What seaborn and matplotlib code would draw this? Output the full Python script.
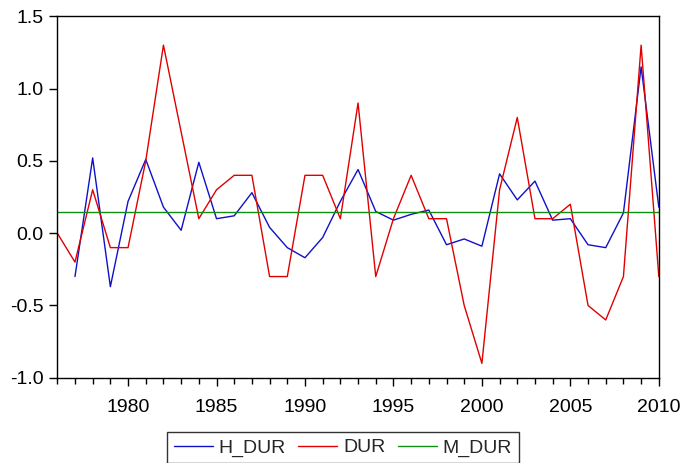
import numpy as np
import pandas as pd
import seaborn as sns
import matplotlib.pyplot as plt
from matplotlib.ticker import MultipleLocator, FormatStrFormatter

#--------------------------------------------------------------------------------------------------------------------------
# Data
years = list(range(1976, 2011))

h_dur = [np.nan, -0.30, 0.52, -0.37, 0.22, 0.51, 0.18, 0.02, 0.49, 0.10,
         0.12, 0.28, 0.04, -0.10, -0.17, -0.03, 0.22, 0.44, 0.15, 0.09,
         0.13, 0.16, -0.08, -0.04, -0.09, 0.41, 0.23, 0.36, 0.09, 0.10,
         -0.08, -0.10, 0.14, 1.15, 0.18]

dur = [0.0, -0.2, 0.3, -0.1, -0.1, 0.5, 1.3, 0.7, 0.1, 0.3,
       0.4, 0.4, -0.3, -0.3, 0.4, 0.4, 0.1, 0.9, -0.3, 0.1,
       0.4, 0.1, 0.1, -0.5, -0.9, 0.3, 0.8, 0.1, 0.1, 0.2,
       -0.5, -0.6, -0.3, 1.3, -0.3]

m_dur = [0.143] * len(years)

series_names = ['H_DUR', 'DUR', 'M_DUR']
series_colors = ['#1010c8', '#e00000', '#109010']

#--------------------------------------------------------------------------------------------------------------------------
df = pd.DataFrame({'year': years, 'H_DUR': h_dur, 'DUR': dur, 'M_DUR': m_dur})
df_long = pd.melt(df, id_vars=['year'], value_vars=series_names, var_name='series', value_name='value')
df_long = df_long.dropna()

sns.set_style('white')
plt.rcParams['font.family'] = ['Liberation Sans', 'DejaVu Sans']

fig = plt.figure(figsize=(6.82, 4.63), dpi=100)
ax = fig.add_axes([0.084, 0.184, 0.882, 0.781])

sns.lineplot(data=df_long, x='year', y='value', hue='series', hue_order=series_names,
             palette=series_colors, linewidth=1.0, ax=ax, legend=False)

ax.set_xlim(1976, 2010)
ax.set_ylim(-1.0, 1.5)
ax.set_xlabel('')
ax.set_ylabel('')

ax.xaxis.set_major_locator(MultipleLocator(5))
ax.xaxis.set_minor_locator(MultipleLocator(1))
ax.yaxis.set_major_locator(MultipleLocator(0.5))
ax.yaxis.set_major_formatter(FormatStrFormatter('%.1f'))
ax.set_xticks([1980, 1985, 1990, 1995, 2000, 2005, 2010])

ax.tick_params(axis='both', which='major', direction='out', length=6, width=1,
               color='black', labelsize=14, labelcolor='black')
ax.tick_params(axis='x', which='minor', direction='out', length=4, width=1, color='black')
ax.tick_params(axis='x', which='both', bottom=True)
ax.tick_params(axis='y', which='both', left=True, pad=4)
ax.tick_params(axis='x', which='major', pad=9)

for side in ax.spines.values():
    side.set_visible(True)
    side.set_color('black')
    side.set_linewidth(1.0)

handles = [plt.Line2D([], [], color=c, linewidth=1.0) for c in series_colors]
fig.legend(handles, series_names, loc='upper center', bbox_to_anchor=(0.503, 0.067), ncol=3,
           frameon=True, fancybox=False, edgecolor='black', fontsize=14,
           handlelength=2.0, columnspacing=0.65, handletextpad=0.3,
           borderpad=0.35, borderaxespad=0.0)

fig.savefig('out.png', dpi=100)
